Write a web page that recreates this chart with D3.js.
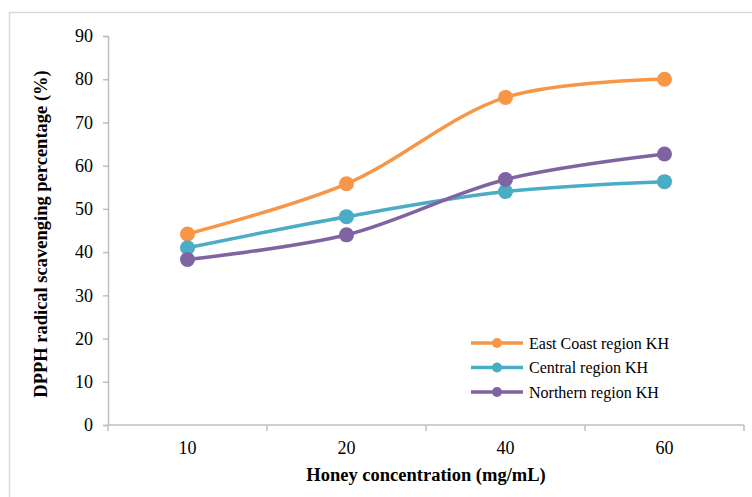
<!DOCTYPE html>
<html>
<head>
<meta charset="utf-8">
<script src="https://cdn.jsdelivr.net/npm/d3@7"></script>
<style>
  html, body { margin: 0; padding: 0; background: #fff; }
  svg { display: block; font-family: "Liberation Serif", "Times New Roman", serif; }
</style>
</head>
<body>
<svg id="chart" width="752" height="497"></svg>
<script>
const categories = ["10", "20", "40", "60"];
const seriesNames = ["East Coast region KH", "Central region KH", "Northern region KH"];
const eastCoast = [44.2, 55.8, 75.8, 80.0];
const central = [41.0, 48.2, 54.0, 56.3];
const northern = [38.3, 44.0, 56.8, 62.7];
const yTicks = [0, 10, 20, 30, 40, 50, 60, 70, 80, 90];
const colors = ["#F79646", "#4BACC6", "#8064A2"];

const series = [eastCoast, central, northern].map((v, i) => ({ name: seriesNames[i], values: v, color: colors[i] }));

const svg = d3.select("#chart");

// outer chart border
svg.append("rect")
  .attr("x", 9.5).attr("y", 12.5)
  .attr("width", 800).attr("height", 600)
  .attr("fill", "none").attr("stroke", "#D9D9D9").attr("stroke-width", 1.5);

const x = d3.scaleBand().domain(categories).range([108, 744]);
const y = d3.scaleLinear().domain([0, 90]).range([425, 36]);

// Y axis
const yAxis = svg.append("g").attr("transform", "translate(108,0)")
  .call(d3.axisLeft(y).tickValues(yTicks).tickSize(5).tickPadding(10));
yAxis.select(".domain").attr("stroke", "#BFBFBF").attr("stroke-width", 1.5);
yAxis.selectAll(".tick line").attr("stroke", "#BFBFBF").attr("stroke-width", 1.5);
yAxis.selectAll("text").attr("font-size", 18).attr("fill", "#000")
  .attr("font-family", "Liberation Serif, Times New Roman, serif");

// X axis line and boundary ticks
const xg = svg.append("g");
xg.append("line").attr("x1", 108).attr("x2", 744).attr("y1", 425).attr("y2", 425)
  .attr("stroke", "#BFBFBF").attr("stroke-width", 1.5);
const edges = categories.map(c => x(c)).concat([x(categories[categories.length - 1]) + x.bandwidth()]);
xg.selectAll("line.tk").data(edges).enter().append("line")
  .attr("class", "tk")
  .attr("x1", d => d).attr("x2", d => d)
  .attr("y1", 425).attr("y2", 431)
  .attr("stroke", "#BFBFBF").attr("stroke-width", 1.5);
xg.selectAll("text").data(categories).enter().append("text")
  .attr("x", d => x(d) + x.bandwidth() / 2)
  .attr("y", 454)
  .attr("text-anchor", "middle")
  .attr("font-size", 18)
  .text(d => d);

// axis titles
svg.append("text")
  .attr("x", 426).attr("y", 481)
  .attr("text-anchor", "middle")
  .attr("font-size", 18.5).attr("font-weight", "bold")
  .text("Honey concentration (mg/mL)");
svg.append("text")
  .attr("transform", "translate(47,234) rotate(-90)")
  .attr("text-anchor", "middle")
  .attr("font-size", 18.5).attr("font-weight", "bold")
  .text("DPPH radical scavenging percentage (%)");

// lines
const line = d3.line()
  .x((d, i) => x(categories[i]) + x.bandwidth() / 2)
  .y(d => y(d))
  .curve(d3.curveCatmullRom.alpha(0.5));

const sg = svg.append("g");
series.forEach(s => {
  sg.append("path")
    .datum(s.values)
    .attr("d", line)
    .attr("fill", "none")
    .attr("stroke", s.color)
    .attr("stroke-width", 3.5)
    .attr("stroke-linecap", "round");
});
series.forEach(s => {
  sg.selectAll(null).data(s.values).enter().append("circle")
    .attr("cx", (d, i) => x(categories[i]) + x.bandwidth() / 2)
    .attr("cy", d => y(d))
    .attr("r", 7.5)
    .attr("fill", s.color);
});

// legend
const lg = svg.append("g");
series.forEach((s, i) => {
  const ly = 343 + i * 24.5;
  lg.append("line").attr("x1", 471).attr("x2", 523).attr("y1", ly).attr("y2", ly)
    .attr("stroke", s.color).attr("stroke-width", 3.5);
  lg.append("circle").attr("cx", 497).attr("cy", ly).attr("r", 5).attr("fill", s.color);
  lg.append("text").attr("x", 529).attr("y", ly + 5.5)
    .attr("font-size", 16).text(s.name);
});
</script>
</body>
</html>
